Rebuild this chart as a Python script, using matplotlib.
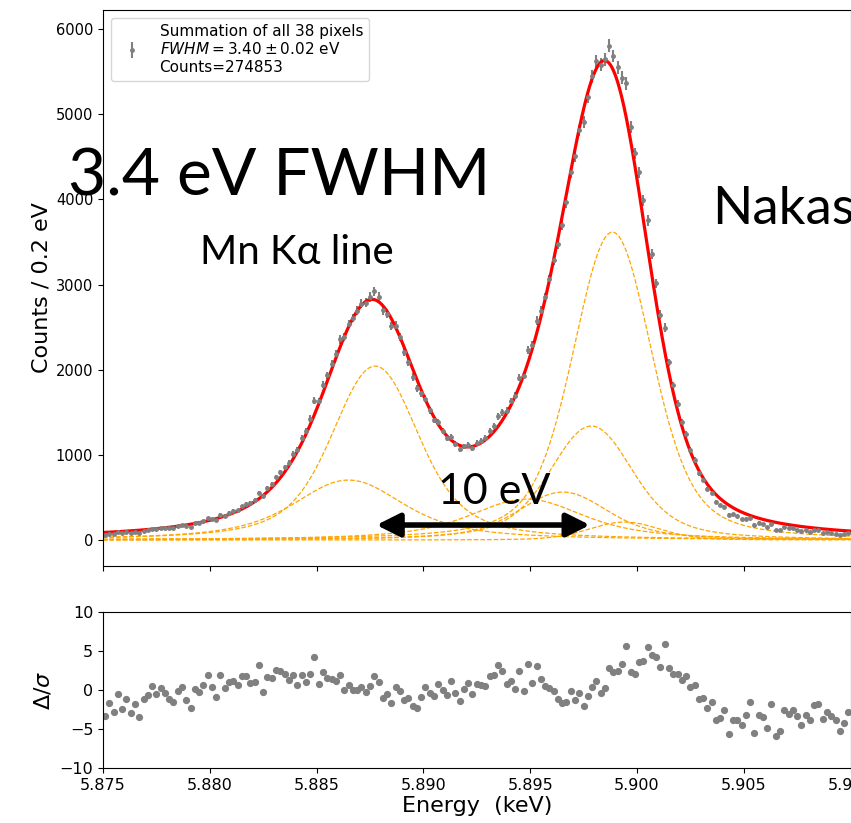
import numpy as np
import matplotlib
matplotlib.use('Agg')
import matplotlib.pyplot as plt

# Bin centres (keV), 0.2 eV bins
bin_start_kev = 5.8751
bin_width_kev = 0.0002

counts = [58, 76, 68, 92, 77, 92, 78, 93, 79, 106, 117, 133, 128, 141, 138, 136, 136, 161, 175, 160,
          153, 196, 200, 223, 254, 244, 237, 298, 287, 318, 340, 351, 397, 423, 435, 472, 554, 519, 607, 656,
          738, 796, 853, 909, 1010, 1060, 1200, 1278, 1426, 1636, 1629, 1825, 1932, 2064, 2189, 2355, 2387, 2537, 2607, 2691,
          2773, 2785, 2853, 2920, 2853, 2696, 2659, 2513, 2518, 2381, 2202, 2091, 1915, 1782, 1721, 1660, 1523, 1412, 1385, 1284,
          1202, 1213, 1124, 1063, 1099, 1121, 1083, 1140, 1162, 1194, 1280, 1342, 1451, 1500, 1519, 1631, 1692, 1908, 1930, 2235,
          2290, 2574, 2690, 2852, 3061, 3282, 3475, 3696, 3963, 4319, 4504, 4809, 4908, 5198, 5443, 5621, 5580, 5645, 5806, 5683,
          5551, 5429, 5361, 4852, 4539, 4316, 3987, 3754, 3358, 3015, 2645, 2495, 2085, 1816, 1601, 1387, 1240, 1054, 940, 784,
          702, 596, 551, 445, 407, 393, 296, 305, 281, 247, 251, 262, 181, 204, 188, 156, 191, 122, 123, 154,
          140, 139, 123, 102, 112, 100, 117, 114, 88, 94, 85, 76, 58, 66, 77]

# Normalised residuals
resid = [-3.3, -1.67, -2.8, -0.56, -2.4, -1.15, -2.9, -1.75, -3.4, -1.2,
         -0.6, 0.47, -0.47, 0.26, -0.43, -1.1, -1.6, -0.1, 0.43, -1.3,
         -2.35, 0.13, -0.3, 0.6, 1.9, 0.43, -0.9, 1.97, 0.3, 1.07,
         1.2, 0.64, 1.8, 1.75, 0.85, 1.07, 3.16, -0.2, 1.67, 1.58,
         2.6, 2.44, 2.0, 1.3, 1.9, 0.64, 1.9, 1.07, 2.0, 4.27,
         0.77, 2.3, 1.58, 1.45, 1.2, 1.88, -0.04, 0.68, 0.04, 0.04,
         0.34, -0.3, 0.56, 1.84, 1.03, -1.07, -0.5, -1.7, 0.38, -0.1,
         -1.3, -1.0, -2.1, -2.3, -0.94, 0.38, -0.38, -0.8, 0.77, 0.0,
         -0.6, 1.15, -0.38, -1.45, 0.08, 0.85, -0.47, 0.77, 0.64, 0.56,
         1.75, 1.97, 3.2, 2.48, 0.77, 1.2, 0.08, 2.4, -0.17, 3.3,
         0.94, 3.08, 1.45, 0.5, 0.2, -0.13, -1.1, -1.7, -1.6, -0.17,
         -1.24, -0.34, -2.1, -0.77, 0.38, 1.15, -0.38, 0.2, 2.78, 2.3,
         2.4, 3.33, 5.7, 2.3, 2.1, 3.6, 3.7, 5.5, 4.5, 4.2,
         3.0, 5.9, 2.78, 2.05, 2.0, 1.28, 1.75, 0.43, 0.64, -1.15,
         -0.98, -2.26, -1.54, -3.85, -3.6, -2.5, -5.64, -3.8, -3.8, -4.5,
         -3.2, -1.58, -5.5, -3.25, -3.5, -4.87, -1.8, -5.94, -5.3, -2.56,
         -3.03, -2.56, -3.3, -4.5, -3.25, -3.85, -1.97, -1.84, -3.76, -2.82,
         -3.33, -3.85, -5.26, -4.2, -2.82]

# Fit model components: Lorentzian lines (eV) broadened by a Gaussian
comp_center = [5898.853, 5897.867, 5894.829, 5896.532, 5899.417, 5887.743, 5886.495]
comp_width = [1.715, 2.043, 4.499, 2.663, 0.969, 2.361, 4.216]
comp_height = [3615, 1338, 480, 563, 211, 2042, 704]
gauss_fwhm = 3.40

x_ticks = [5.875, 5.880, 5.885, 5.890, 5.895, 5.900, 5.905, 5.910]
y_ticks_top = [0, 1000, 2000, 3000, 4000, 5000, 6000]
y_ticks_bot = [-10, -5, 0, 5, 10]

legend_label = 'Summation of all 38 pixels\n$FWHM = 3.40 \\pm 0.02$ eV\nCounts=274853'

# ---- model curves ----
grid = np.arange(5840.0, 5945.0, 0.01)
sig = gauss_fwhm / 2.3548
kx = np.arange(-12, 12.0001, 0.01)
kern = np.exp(-0.5 * (kx / sig) ** 2)
comps = []
for c, w, h in zip(comp_center, comp_width, comp_height):
    L = 1.0 / (1.0 + (2 * (grid - c) / w) ** 2)
    v = np.convolve(L, kern, mode='same')
    v = v / v.max() * h
    comps.append(v)
fit = np.sum(comps, axis=0)

counts = np.array(counts, dtype=float)
ebins = bin_start_kev + bin_width_kev * np.arange(len(counts))

fig = plt.figure(figsize=(8.51, 8.23), dpi=100)
W, H = 851.0, 823.0
ax1 = fig.add_axes([103 / W, 1 - 566 / H, (850.5 - 103) / W, (566 - 10) / H])
ax2 = fig.add_axes([103 / W, 1 - 768 / H, (850.5 - 103) / W, (768 - 612) / H])

gk = grid / 1000.0
for v in comps:
    ax1.plot(gk, v, ls='--', color='orange', lw=0.9)
ax1.errorbar(ebins, counts, yerr=np.sqrt(counts), fmt='o', color='gray',
             ms=2.5, elinewidth=1.5, capsize=0, label=legend_label)
ax1.plot(gk, fit, color='red', lw=2.3)
ax1.set_xlim(5.875, 5.910)
ax1.set_ylim(-305, 6223)
ax1.set_yticks(y_ticks_top)
ax1.set_xticks(x_ticks)
ax1.tick_params(labelbottom=False, labelsize=10.5)
ax1.set_ylabel('Counts / 0.2 eV', fontsize=16, labelpad=3)
ax1.legend(loc='upper left', fontsize=11)

ax1.annotate('', xy=(5.8978, 176), xytext=(5.8878, 176),
             arrowprops=dict(arrowstyle='<|-|>', color='black', lw=4,
                             mutation_scale=35, shrinkA=0, shrinkB=0))

ax2.plot(ebins, resid, 'o', color='gray', ms=4.2)
ax2.set_xlim(5.875, 5.910)
ax2.set_ylim(-10, 10)
ax2.set_yticks(y_ticks_bot)
ax2.set_xticks(x_ticks)
ax2.set_xticklabels(['%.3f' % t for t in x_ticks])
ax2.tick_params(labelsize=11.5)
ax2.set_ylabel('$\\Delta/\\sigma$', fontsize=16)
ax2.set_xlabel('Energy  (keV)', fontsize=16, labelpad=2)

fig.text(68 / W, 1 - 196 / H, '3.4 eV FWHM', fontsize=47.5, family='Lato', va='baseline')
fig.text(200 / W, 1 - 264 / H, 'Mn K\u03b1 line', fontsize=29, family='Lato', va='baseline')
fig.text(438 / W, 1 - 504 / H, '10 eV', fontsize=31, family='Lato', va='baseline')
fig.text(712 / W, 1 - 224 / H, 'Nakas', fontsize=38, family='Lato', va='baseline')

fig.savefig('out.png', dpi=100)
